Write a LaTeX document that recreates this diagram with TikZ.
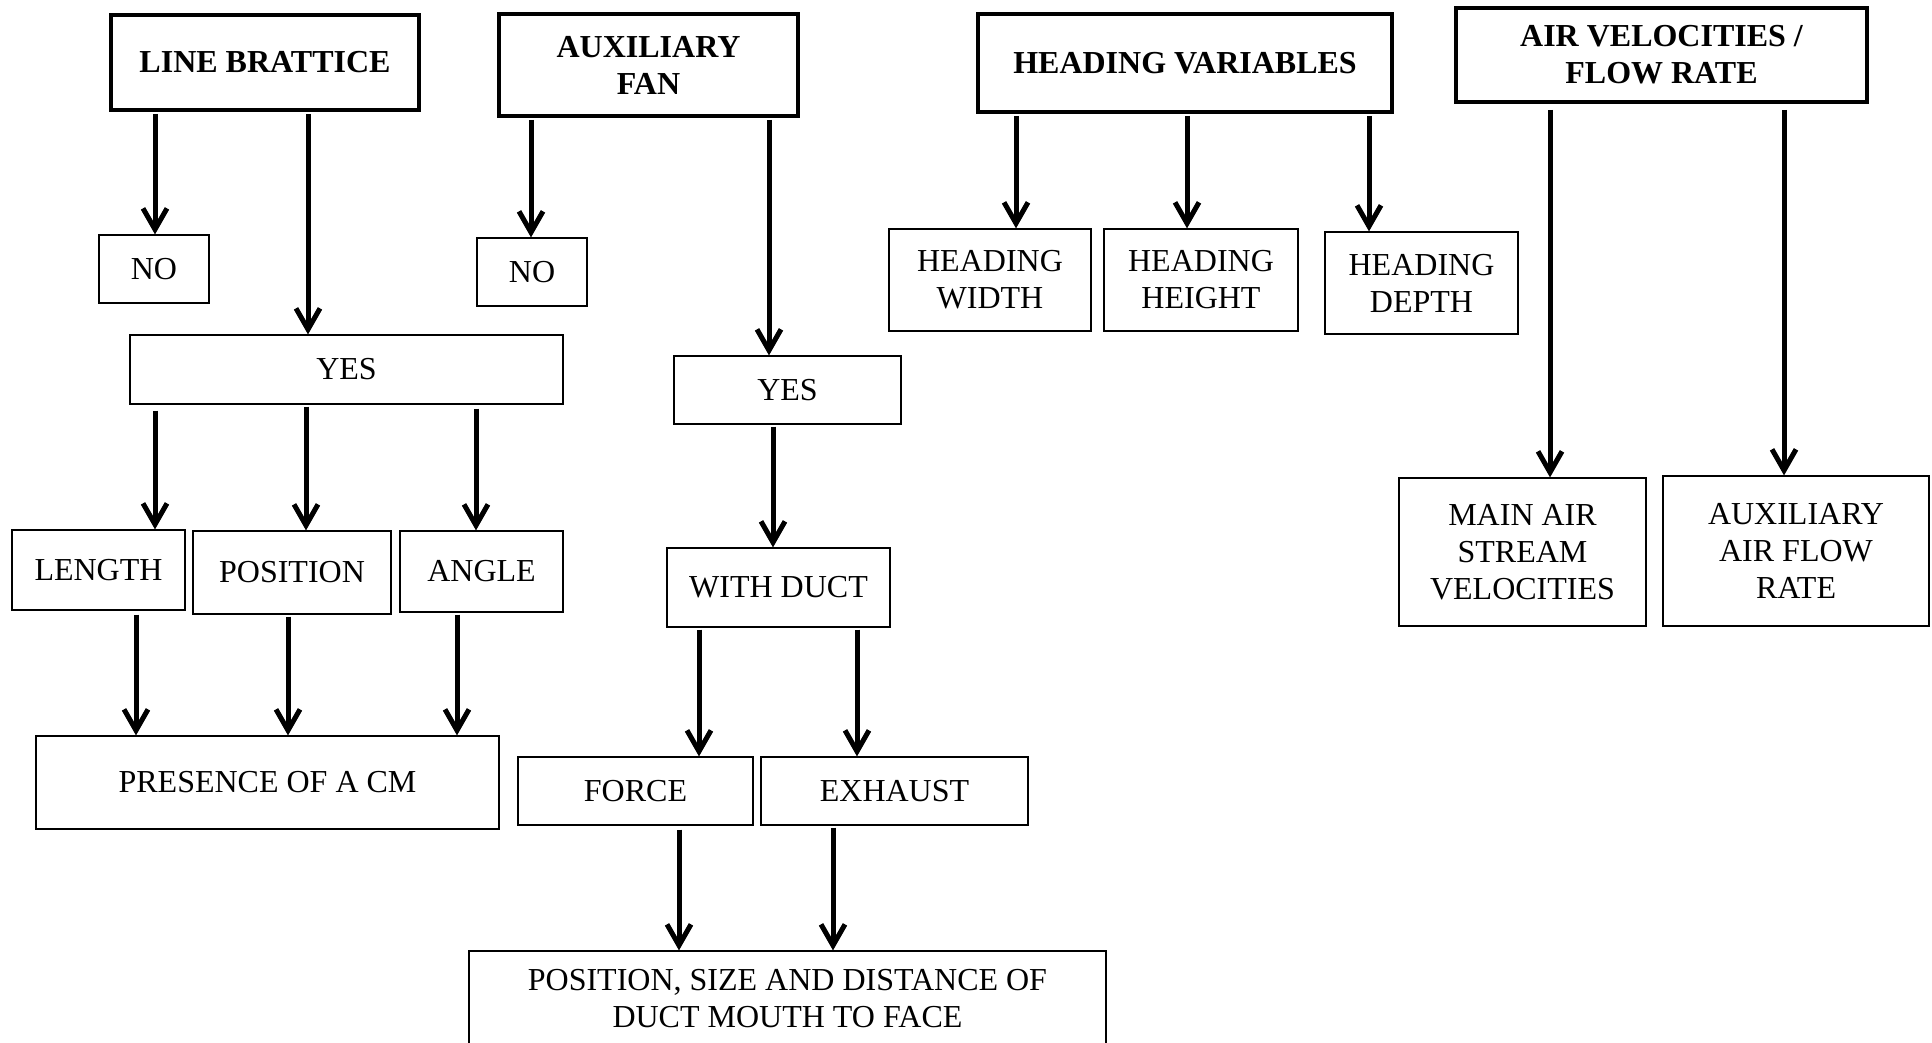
\documentclass[tikz,border=0pt]{standalone}
\usepackage{fontspec}
\setmainfont{Liberation Serif}
\usetikzlibrary{arrows.meta}
\begin{document}
\begin{tikzpicture}[x=0.5pt,y=-0.5pt,
  box/.style={draw,line width=0.6pt,inner sep=0pt,align=center,font=\fontsize{16}{18.5}\selectfont},
  titlebox/.style={draw,line width=1.8pt,inner sep=0pt,align=center,font=\fontsize{16}{18.5}\selectfont\bfseries},
  arr/.style={line width=2.5pt,-{Straight Barb[length=10.5pt,width=12pt,line width=2.5pt]},shorten <=1pt}]
\useasboundingbox (0,0) rectangle (1932,1043);
% titles
\node[titlebox,minimum width=154pt,minimum height=47.5pt] (lb) at (265,62.5) {LINE BRATTICE};
\node[titlebox,minimum width=149.5pt,minimum height=51pt] (af) at (648.5,65) {AUXILIARY\\FAN};
\node[titlebox,minimum width=207pt,minimum height=49pt] (hv) at (1185,63) {HEADING VARIABLES};
\node[titlebox,minimum width=205.5pt,minimum height=47pt] (av) at (1661.5,55) {AIR VELOCITIES /\\FLOW RATE};
% boxes
\node[box,minimum width=55pt,minimum height=34pt] (no1) at (154,269) {NO};
\node[box,minimum width=55pt,minimum height=34pt] (no2) at (532,272) {NO};
\node[box,minimum width=216.5pt,minimum height=34.5pt] (yes1) at (346.5,369.5) {YES};
\node[box,minimum width=113.5pt,minimum height=34pt] (yes2) at (787.5,390) {YES};
\node[box,minimum width=86.5pt,minimum height=40pt] (len) at (98.5,570) {LENGTH};
\node[box,minimum width=99pt,minimum height=41.5pt] (pos) at (292,572.5) {POSITION};
\node[box,minimum width=81.5pt,minimum height=40.5pt] (ang) at (481.5,571.5) {ANGLE};
\node[box,minimum width=231.5pt,minimum height=46.5pt] (pres) at (267.5,782.5) {PRESENCE OF A CM};
\node[box,minimum width=111.5pt,minimum height=39.5pt] (wd) at (778.5,587.5) {WITH DUCT};
\node[box,minimum width=117.5pt,minimum height=34pt] (force) at (635.5,791) {FORCE};
\node[box,minimum width=133.5pt,minimum height=34pt] (exh) at (894.5,791) {EXHAUST};
\node[box,minimum width=318.5pt,minimum height=47.5pt] (psd) at (787.5,998.5) {POSITION, SIZE AND DISTANCE OF\\DUCT MOUTH TO FACE};
\node[box,minimum width=101pt,minimum height=51pt] (hw) at (990,280) {HEADING\\WIDTH};
\node[box,minimum width=97pt,minimum height=51pt] (hh) at (1201,280) {HEADING\\HEIGHT};
\node[box,minimum width=96.5pt,minimum height=51pt] (hd) at (1421.5,283) {HEADING\\DEPTH};
\node[box,minimum width=123.5pt,minimum height=74pt] (mas) at (1522.5,552) {MAIN AIR\\STREAM\\VELOCITIES};
\node[box,minimum width=133pt,minimum height=75pt] (aaf) at (1796,551) {AUXILIARY\\AIR FLOW\\RATE};
% x positions of connectors
\coordinate (a1) at (155,0);
\coordinate (a2) at (308,0);
\coordinate (a3) at (531,0);
\coordinate (a4) at (769,0);
\coordinate (a5) at (155,0);
\coordinate (a6) at (306,0);
\coordinate (a7) at (476,0);
\coordinate (a8) at (136,0);
\coordinate (a9) at (288,0);
\coordinate (a10) at (457,0);
\coordinate (a11) at (773,0);
\coordinate (a12) at (699,0);
\coordinate (a13) at (857,0);
\coordinate (a14) at (679,0);
\coordinate (a15) at (833,0);
\coordinate (a16) at (1016,0);
\coordinate (a17) at (1187,0);
\coordinate (a18) at (1369,0);
\coordinate (a19) at (1550,0);
\coordinate (a20) at (1784,0);
% connectors
\draw[arr] (lb.south -| a1) -- (no1.north -| a1);
\draw[arr] (lb.south -| a2) -- (yes1.north -| a2);
\draw[arr] (af.south -| a3) -- (no2.north -| a3);
\draw[arr] (af.south -| a4) -- (yes2.north -| a4);
\draw[arr,shorten <=3pt] (yes1.south -| a5) -- (len.north -| a5);
\draw[arr] (yes1.south -| a6) -- (pos.north -| a6);
\draw[arr,shorten <=2pt] (yes1.south -| a7) -- (ang.north -| a7);
\draw[arr,shorten <=2pt] (len.south -| a8) -- (pres.north -| a8);
\draw[arr] (pos.south -| a9) -- (pres.north -| a9);
\draw[arr] (ang.south -| a10) -- (pres.north -| a10);
\draw[arr] (yes2.south -| a11) -- (wd.north -| a11);
\draw[arr] (wd.south -| a12) -- (force.north -| a12);
\draw[arr] (wd.south -| a13) -- (exh.north -| a13);
\draw[arr,shorten <=2pt] (force.south -| a14) -- (psd.north -| a14);
\draw[arr] (exh.south -| a15) -- (psd.north -| a15);
\draw[arr] (hv.south -| a16) -- (hw.north -| a16);
\draw[arr] (hv.south -| a17) -- (hh.north -| a17);
\draw[arr] (hv.south -| a18) -- (hd.north -| a18);
\draw[arr,shorten <=3pt] (av.south -| a19) -- (mas.north -| a19);
\draw[arr,shorten <=3pt] (av.south -| a20) -- (aaf.north -| a20);
\end{tikzpicture}
\end{document}
